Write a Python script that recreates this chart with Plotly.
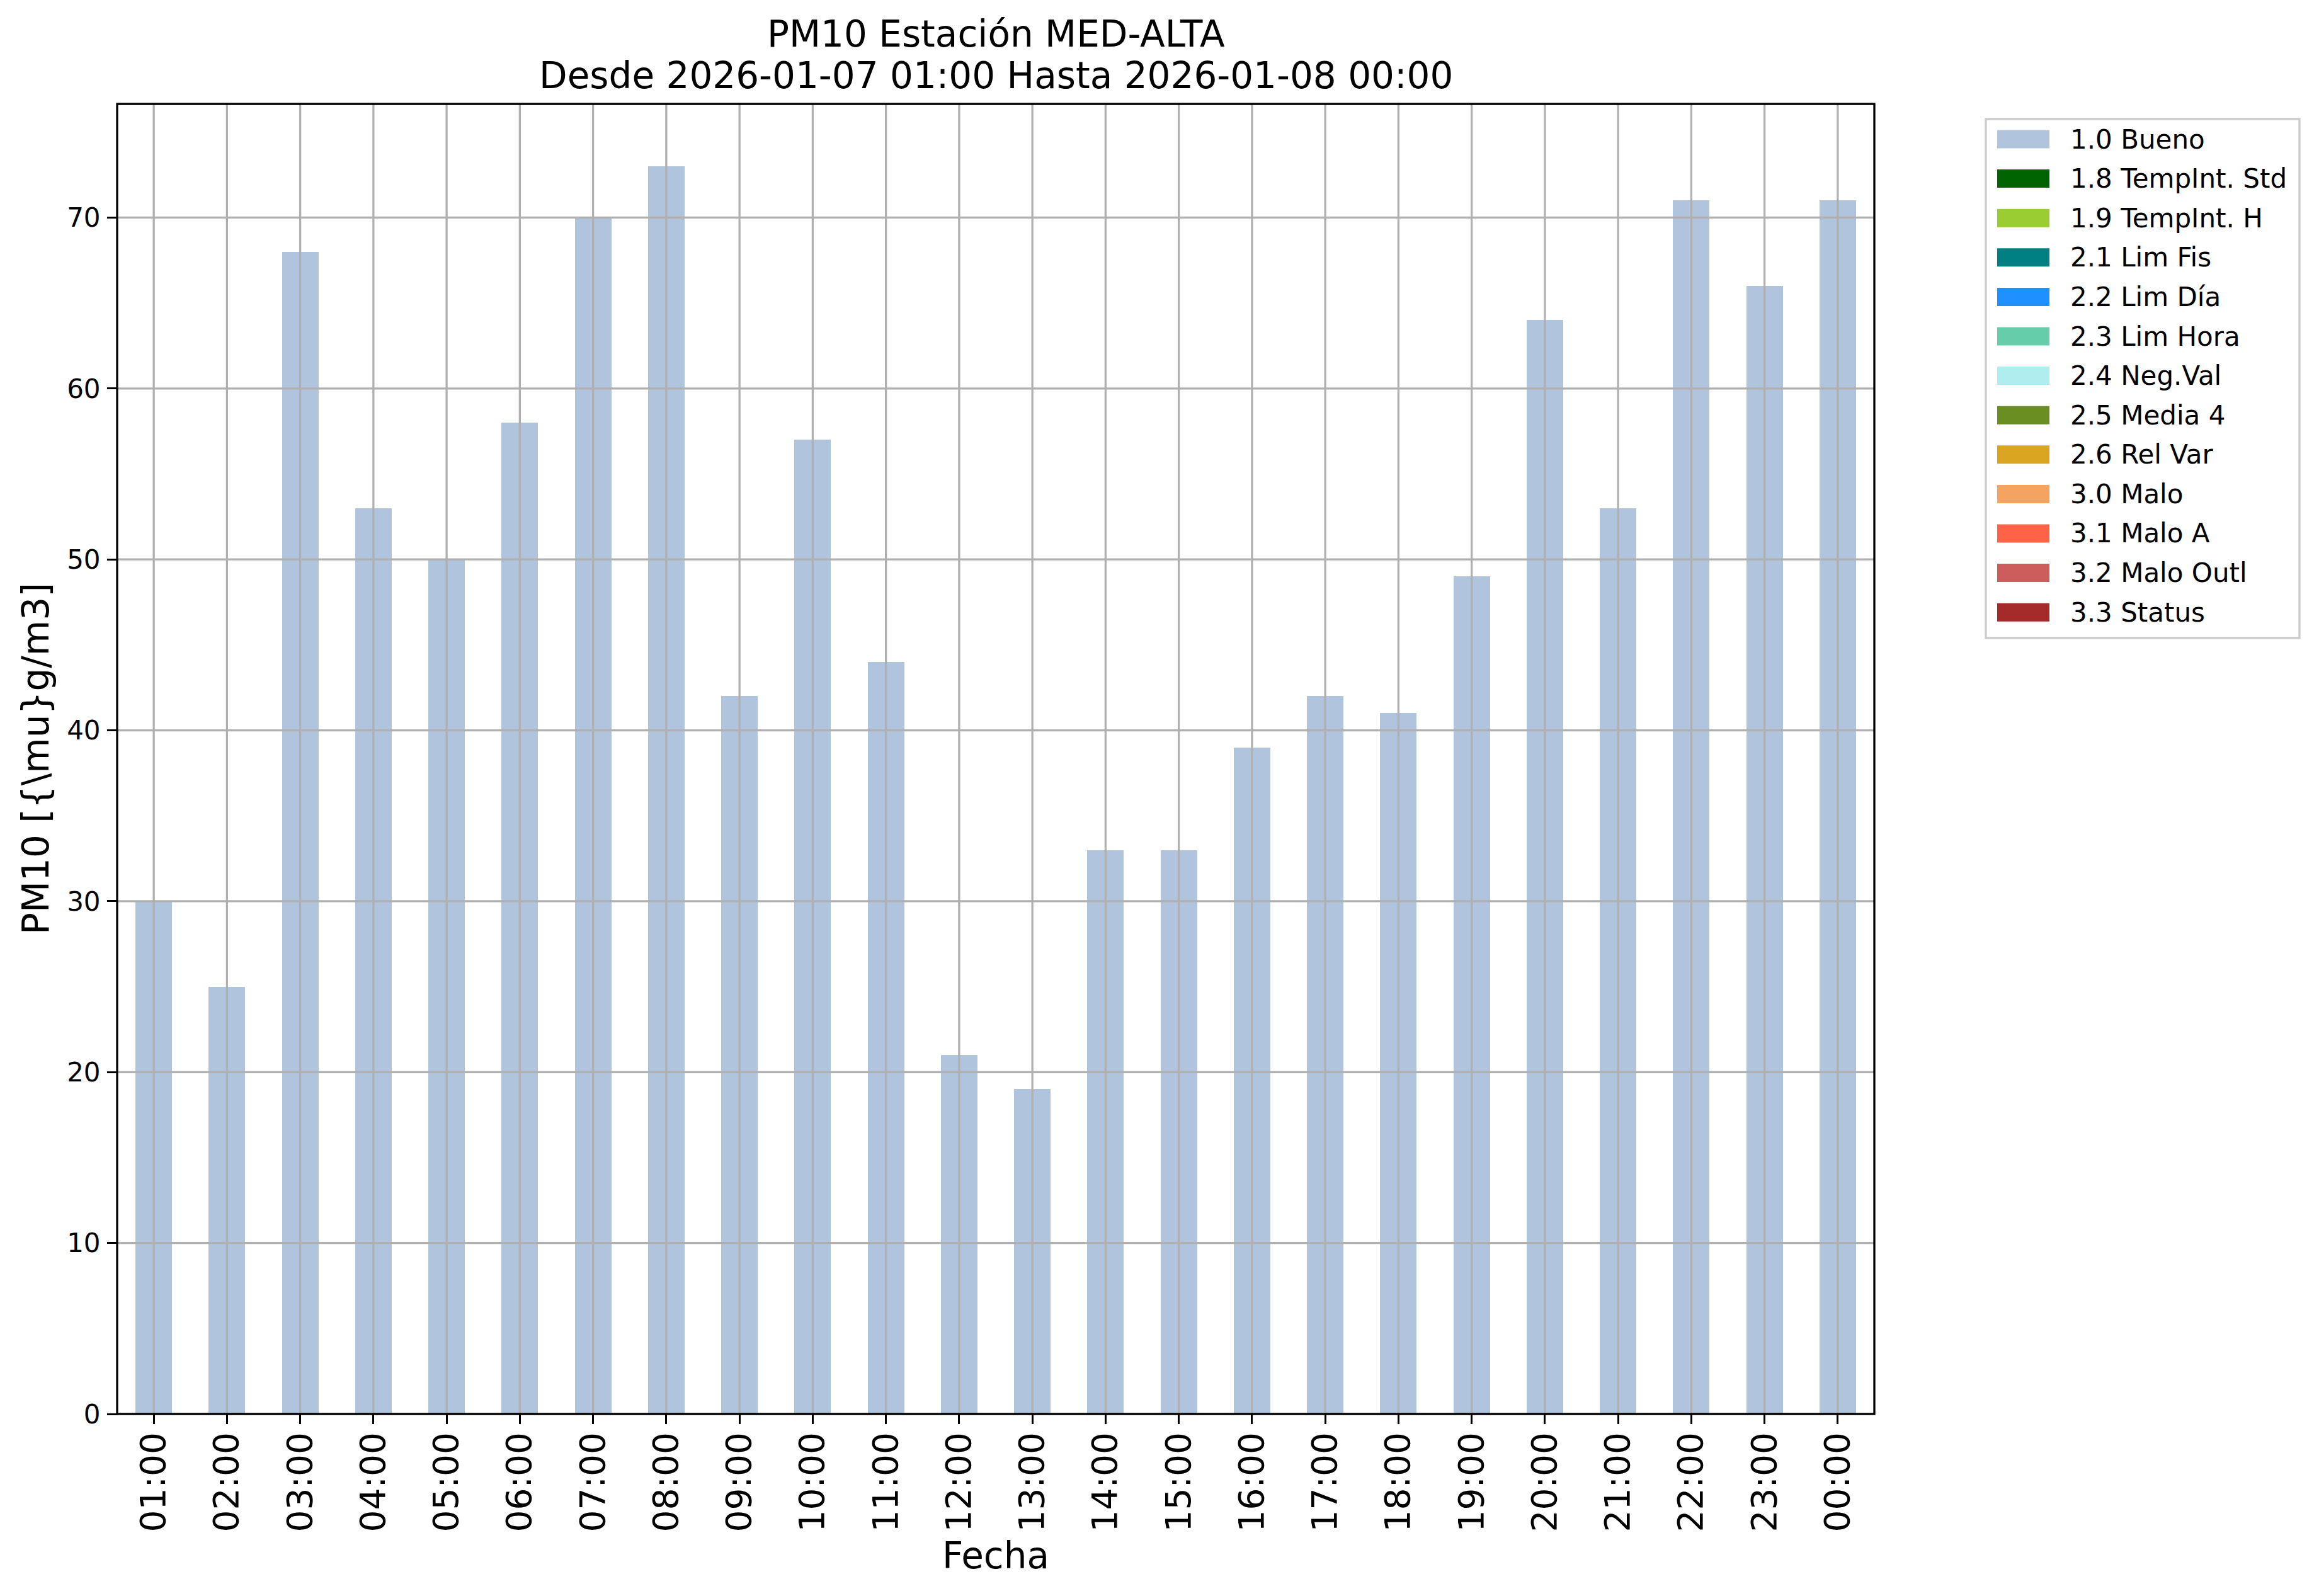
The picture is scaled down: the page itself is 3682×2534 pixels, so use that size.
import plotly.graph_objects as go

# ---------------- data ----------------
hours = ["01:00", "02:00", "03:00", "04:00", "05:00", "06:00", "07:00", "08:00",
         "09:00", "10:00", "11:00", "12:00", "13:00", "14:00", "15:00", "16:00",
         "17:00", "18:00", "19:00", "20:00", "21:00", "22:00", "23:00", "00:00"]
pm10 = [30, 25, 68, 53, 50, 58, 70, 73, 42, 57, 44, 21,
        19, 33, 33, 39, 42, 41, 49, 64, 53, 71, 66, 71]
flags = ["1.0 Bueno", "1.0 Bueno", "1.0 Bueno", "1.0 Bueno", "1.0 Bueno", "1.0 Bueno",
         "1.0 Bueno", "1.0 Bueno", "1.0 Bueno", "1.0 Bueno", "1.0 Bueno", "1.0 Bueno",
         "1.0 Bueno", "1.0 Bueno", "1.0 Bueno", "1.0 Bueno", "1.0 Bueno", "1.0 Bueno",
         "1.0 Bueno", "1.0 Bueno", "1.0 Bueno", "1.0 Bueno", "1.0 Bueno", "1.0 Bueno"]
cat_labels = ["1.0 Bueno", "1.8 TempInt. Std", "1.9 TempInt. H", "2.1 Lim Fis",
              "2.2 Lim Día", "2.3 Lim Hora", "2.4 Neg.Val", "2.5 Media 4",
              "2.6 Rel Var", "3.0 Malo", "3.1 Malo A", "3.2 Malo Outl", "3.3 Status"]
cat_colors = ["#B0C4DE", "#006400", "#9ACD32", "#008080", "#1E90FF", "#66CDAA",
              "#AFEEEE", "#6B8E23", "#DAA520", "#F4A460", "#FF6347", "#CD5C5C", "#A52A2A"]
y_ticks = [0, 10, 20, 30, 40, 50, 60, 70]

title_line1 = "PM10 Estación MED-ALTA"
title_line2 = "Desde 2026-01-07 01:00 Hasta 2026-01-08 00:00"
x_title = "Fecha"
y_title = "PM10 [{\\mu}g/m3]"

# ---------------- layout geometry (absolute page pixels) ----------------
W, H = 3682, 2534
OFF = 8                      # default page body margin
PL, PR, PT, PB = 186, 2976, 165, 2245   # plot area in page pixels
FW, FH = W - 2 * OFF, H - 2 * OFF
L, T = PL - OFF, PT - OFF
R, B = FW - (PR - OFF), FH - (PB - OFF)
PW, PH = PR - PL, PB - PT
FONT = "DejaVu Sans"
GRID = "#b0b0b0"
LW = 3.3


def px(x):
    return (x - PL) / PW


def py(y):
    return (PB - y) / PH


fig = go.Figure()
for lab, col in zip(cat_labels, cat_colors):
    yv = [v if f == lab else 0 for v, f in zip(pm10, flags)]
    fig.add_trace(go.Bar(x=hours, y=yv, name=lab, width=0.5,
                         marker=dict(color=col, line=dict(width=0)),
                         showlegend=False))

shapes = []
# grid lines drawn above the bars (as in the reference)
for h in hours:
    shapes.append(dict(type="line", xref="x", yref="paper", x0=h, x1=h, y0=0, y1=1,
                       line=dict(color=GRID, width=LW), layer="above"))
for t in y_ticks[1:]:
    shapes.append(dict(type="line", xref="paper", yref="y", x0=0, x1=1, y0=t, y1=t,
                       line=dict(color=GRID, width=LW), layer="above"))
# axes frame
shapes.append(dict(type="rect", xref="paper", yref="paper", x0=0, x1=1, y0=0, y1=1,
                   line=dict(color="black", width=LW), layer="above"))

# custom legend
shapes.append(dict(type="rect", xref="paper", yref="paper",
                   x0=px(3153), x1=px(3651), y0=py(1013), y1=py(189),
                   line=dict(color="#cccccc", width=LW), fillcolor="white", layer="above"))
annotations = []
row0, step = 221, 62.6
for i, (lab, col) in enumerate(zip(cat_labels, cat_colors)):
    cy = row0 + i * step
    shapes.append(dict(type="rect", xref="paper", yref="paper",
                       x0=px(3171), x1=px(3254), y0=py(cy + 14.5), y1=py(cy - 14.5),
                       line=dict(width=0), fillcolor=col, layer="above"))
    annotations.append(dict(text=lab, xref="paper", yref="paper", x=px(3285), y=py(cy),
                            xanchor="left", yanchor="middle", showarrow=False,
                            font=dict(family=FONT, size=42, color="black")))

# titles
annotations.append(dict(text=title_line1, xref="paper", yref="paper", x=0.5, y=py(54),
                        xanchor="center", yanchor="middle", showarrow=False,
                        font=dict(family=FONT, size=58, color="black")))
annotations.append(dict(text=title_line2, xref="paper", yref="paper", x=0.5, y=py(120),
                        xanchor="center", yanchor="middle", showarrow=False,
                        font=dict(family=FONT, size=58, color="black")))
annotations.append(dict(text=x_title, xref="paper", yref="paper", x=0.5, y=py(2470),
                        xanchor="center", yanchor="middle", showarrow=False,
                        font=dict(family=FONT, size=58, color="black")))
annotations.append(dict(text=y_title, xref="paper", yref="paper", x=px(57), y=0.5,
                        xanchor="center", yanchor="middle", showarrow=False, textangle=-90,
                        font=dict(family=FONT, size=58, color="black")))

fig.update_layout(
    width=FW, height=FH,
    margin=dict(l=L, r=R, t=T, b=B, autoexpand=False),
    paper_bgcolor="white", plot_bgcolor="white",
    barmode="stack", bargap=0.5,
    font=dict(family=FONT, color="black"),
    showlegend=False,
    shapes=shapes, annotations=annotations,
    xaxis=dict(type="category", categoryorder="array", categoryarray=hours,
               range=[-0.5, len(hours) - 0.5], showgrid=False, zeroline=False,
               showline=False, ticks="outside", ticklen=15, tickwidth=LW,
               tickcolor="black", tickangle=-90, ticklabelstandoff=-9,
               tickfont=dict(family=FONT, size=55, color="black")),
    yaxis=dict(range=[0, 76.65], tickvals=y_ticks, ticktext=[str(t) for t in y_ticks],
               showgrid=False, zeroline=False, showline=False, ticks="outside",
               ticklen=15, tickwidth=LW, tickcolor="black", ticklabelstandoff=2,
               tickfont=dict(family=FONT, size=42, color="black")),
)

fig.write_html("out.html")
